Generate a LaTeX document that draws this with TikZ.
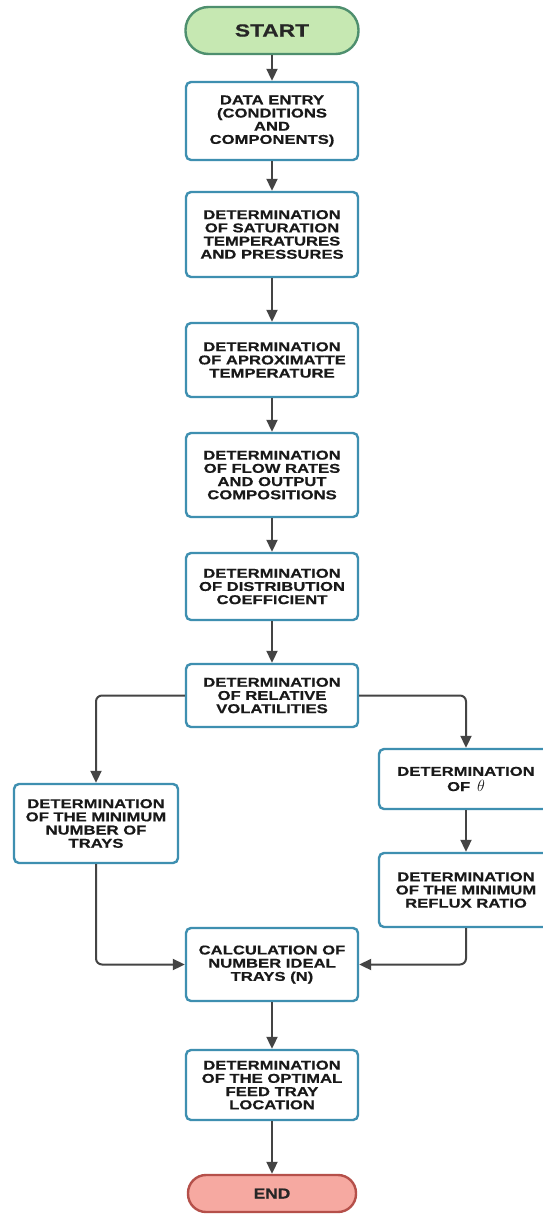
\documentclass[tikz,border=0pt]{standalone}
\usepackage{fontspec}
\newfontfamily\boxfont[FakeStretch=1.3,FakeBold=0.6]{Liberation Sans}
\newfontfamily\startfont[FakeStretch=1.3,FakeBold=0.6]{Liberation Sans}
\newfontfamily\endfont[FakeStretch=1.2,FakeBold=0.6]{Liberation Sans}
\usetikzlibrary{arrows.meta}
\definecolor{boxline}{HTML}{3E8FB0}
\definecolor{startfill}{HTML}{C6E8B2}
\definecolor{startline}{HTML}{4E8F6E}
\definecolor{endfill}{HTML}{F6A9A1}
\definecolor{endline}{HTML}{B5504A}
\definecolor{conn}{HTML}{444444}
\tikzset{
  stepbox/.style={draw=boxline, fill=white, line width=2.4pt, rounded corners=5pt,
    align=center, inner sep=0pt, text=black!90,
    font={\boxfont\bfseries\fontsize{12.8}{13.2}\selectfont}},
  startbox/.style={draw=startline, fill=startfill, line width=2.4pt, rounded corners=23pt,
    minimum width=173pt, minimum height=47pt, inner sep=0pt, text=black!85,
    font={\startfont\bfseries\fontsize{17.5}{19}\selectfont}},
  endbox/.style={draw=endline, fill=endfill, line width=2.4pt, rounded corners=18pt,
    minimum width=168pt, minimum height=37pt, inner sep=0pt, text=black!85,
    font={\endfont\bfseries\fontsize{14.5}{16}\selectfont}},
  conn/.style={draw=conn, line width=2pt, rounded corners=6pt,
    -{Triangle[length=12pt,width=11pt]}}
}
\begin{document}
\begin{tikzpicture}[x=1pt,y=-1pt]
\clip (0,0) rectangle (543,1218);
\fill[white] (0,0) rectangle (543,1218);
\node[startbox] (start) at (272,30.5) {START};
\node[stepbox, minimum width=172pt, minimum height=78pt] (data) at (272,121)
  {DATA ENTRY\\(CONDITIONS\\AND\\COMPONENTS)};
\node[stepbox, minimum width=172pt, minimum height=85pt] (sat) at (272,234.5)
  {DETERMINATION\\OF SATURATION\\TEMPERATURES\\AND PRESSURES};
\node[stepbox, minimum width=172pt, minimum height=74pt] (apr) at (272,360)
  {DETERMINATION\\OF APROXIMATTE\\TEMPERATURE};
\node[stepbox, minimum width=172pt, minimum height=84pt] (flow) at (272,475)
  {DETERMINATION\\OF FLOW RATES\\AND OUTPUT\\COMPOSITIONS};
\node[stepbox, minimum width=172pt, minimum height=67pt] (dist) at (272,586.5)
  {DETERMINATION\\OF DISTRIBUTION\\COEFFICIENT};
\node[stepbox, minimum width=172pt, minimum height=63pt] (rel) at (272,695.5)
  {DETERMINATION\\OF RELATIVE\\VOLATILITIES};
\node[stepbox, minimum width=164pt, minimum height=79pt] (mintr) at (96,823.5)
  {DETERMINATION\\OF THE MINIMUM\\NUMBER OF\\TRAYS};
\node[stepbox, minimum width=174pt, minimum height=60pt] (theta) at (466,779)
  {DETERMINATION\\[2pt]OF \,\scalebox{1.35}{$\theta$}};
\node[stepbox, minimum width=174pt, minimum height=74pt] (reflux) at (466,890)
  {DETERMINATION\\OF THE MINIMUM\\REFLUX RATIO};
\node[stepbox, minimum width=172pt, minimum height=73pt] (calc) at (272,964.5)
  {CALCULATION OF\\NUMBER IDEAL\\TRAYS (N)};
\node[stepbox, minimum width=172pt, minimum height=70pt] (feed) at (272,1085)
  {DETERMINATION\\OF THE OPTIMAL\\FEED TRAY\\LOCATION};
\node[endbox] (end) at (272,1193.5) {END};
\coordinate (lc) at (96,695.5);
\coordinate (rc) at (466,695.5);
\coordinate (lb) at (96,964.5);
\coordinate (rb) at (466,964.5);
\draw[conn] (start) -- (data);
\draw[conn] (data) -- (sat);
\draw[conn] (sat) -- (apr);
\draw[conn] (apr) -- (flow);
\draw[conn] (flow) -- (dist);
\draw[conn] (dist) -- (rel);
\draw[conn] (rel.west) -- (lc) -- (mintr.north);
\draw[conn] (rel.east) -- (rc) -- (theta.north);
\draw[conn] (theta) -- (reflux);
\draw[conn] (mintr.south) -- (lb) -- (calc.west);
\draw[conn] (reflux.south) -- (rb) -- (calc.east);
\draw[conn] (calc) -- (feed);
\draw[conn] (feed) -- (end);
\end{tikzpicture}
\end{document}
